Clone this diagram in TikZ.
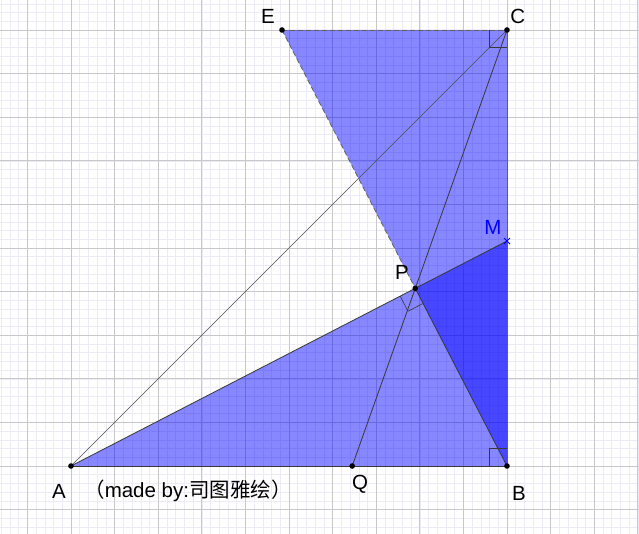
\documentclass[tikz,border=0pt]{standalone}
\usepackage{fontspec}
\setmainfont{Liberation Sans}
\newfontfamily\cjk{Noto Sans CJK SC}
\usetikzlibrary{calc}
\definecolor{minorgrid}{RGB}{236,236,246}
\definecolor{majorgrid}{RGB}{200,200,200}
\definecolor{edgegray}{RGB}{96,96,96}
\tikzset{
  seg/.style={draw=black!78,line width=0.8pt},
  thinseg/.style={draw=black!70,line width=0.6pt},
  dashseg/.style={draw=edgegray,line width=0.8pt,dash pattern=on 5pt off 3pt},
  sideseg/.style={draw=edgegray,line width=0.8pt},
  anglemark/.style={draw=black!78,line width=0.6pt},
  dot/.style={fill=black},
  lbl/.style={font=\fontsize{20.5}{24}\selectfont,inner sep=0pt},
  shade/.style={fill=blue,fill opacity=0.47},
}
\begin{document}
\begin{tikzpicture}[x=43.6pt,y=43.6pt]
\useasboundingbox (-1.628,-1.537) rectangle (13.028,10.688);
\clip (-1.628,-1.537) rectangle (13.028,10.688);
\fill[white] (-1.628,-1.537) rectangle (13.028,10.688);
\draw[minorgrid,line width=0.45pt,step=0.2] (-2,-2) grid (14,11);
\draw[majorgrid,line width=0.7pt,step=1] (-2,-2) grid (14,11);
% points
\coordinate (A) at (0,0);
\coordinate (B) at (10,0);
\coordinate (C) at (10,10);
\coordinate (M) at (10,5.16);
\coordinate (E) at (4.84,10);
\coordinate (P) at ($(A)!(B)!(M)$);
\coordinate (Q) at (intersection of C--P and A--B);
% fills
\fill[shade] (A) -- (B) -- (M) -- cycle;
\fill[shade] (E) -- (C) -- (B) -- cycle;
% segments
\draw[dashseg] (E) -- (C);
\draw[dashseg] (E) -- (P);
\draw[sideseg] (C) -- (B);
\draw[seg] (A) -- (B);
\draw[seg] (A) -- (M);
\draw[seg] (P) -- (B);
\draw[thinseg] (A) -- (C);
\draw[seg] (C) -- (Q);
% right angle marks
\draw[anglemark] ($(B)+(-0.4,0)$) -- ($(B)+(-0.4,0.4)$) -- ($(B)+(0,0.4)$);
\draw[anglemark] ($(C)+(-0.4,0)$) -- ($(C)+(-0.4,-0.4)$) -- ($(C)+(0,-0.4)$);
\coordinate (pa) at ($(P)!17pt!(A)$);
\coordinate (pb) at ($(P)!17pt!(B)$);
\draw[anglemark] (pa) -- ($(pa)+(pb)-(P)$) -- (pb);
% dots
\foreach \p in {A,B,C,E,P,Q} \fill[dot] (\p) circle (2.8pt);
\draw[blue,line width=0.8pt] ($(M)+(-3pt,-3pt)$) -- ($(M)+(3pt,3pt)$) ($(M)+(-3pt,3pt)$) -- ($(M)+(3pt,-3pt)$);
% labels
\node[lbl] (lA) at (-0.275,-0.573) {A};
\node[lbl,anchor=west] (note) at (0.3,-0.573) {{\cjk （}made by:{\cjk 司图雅绘）}};
\node[lbl] (lQ) at (6.63,-0.413) {Q};
\node[lbl] (lB) at (10.275,-0.62) {B};
\node[lbl] (lC) at (10.25,10.30) {C};
\node[lbl] (lE) at (4.52,10.30) {E};
\node[lbl,text=blue] (lM) at (9.68,5.46) {M};
\node[lbl] (lP) at (7.59,4.43) {P};
\end{tikzpicture}
\end{document}
